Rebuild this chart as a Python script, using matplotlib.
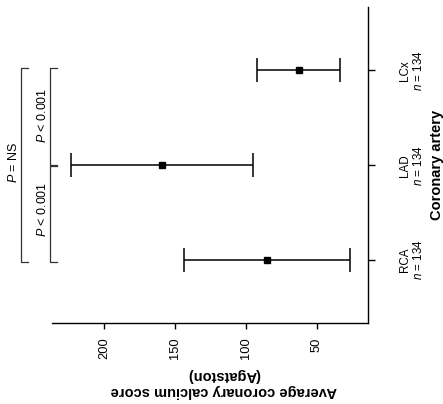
import matplotlib
matplotlib.use("Agg")
import matplotlib.pyplot as plt
import matplotlib.transforms as mtransforms

plt.rcParams['font.family'] = ['Liberation Sans', 'DejaVu Sans']
plt.rcParams['mathtext.fontset'] = 'custom'
plt.rcParams['mathtext.it'] = 'Liberation Sans:italic'
plt.rcParams['mathtext.rm'] = 'Liberation Sans'

# ---- data ----
categories = ['RCA', 'LAD', 'LCx']
n_values = [134, 134, 134]
means = [85.5, 159.5, 63.0]
errors = [58.5, 64.0, 29.0]
value_ticks = [200, 150, 100, 50]
comparisons = [  # (from index, to index, label)
    (0, 1, '$P$ < 0.001'),
    (1, 2, '$P$ < 0.001'),
    (0, 2, '$P$ = NS'),
]

W, H = 443, 404
fig = plt.figure(figsize=(W / 100, H / 100), dpi=100)
ax = fig.add_axes([52 / W, 1 - 323 / H, 316 / W, 316 / H])

ypos = list(range(len(categories)))
ax.errorbar(means, ypos, xerr=errors, fmt='s', color='black', ecolor='black',
            markersize=5, elinewidth=1.1, capsize=8.3, capthick=1.1)

ax.set_xlim(237, 14)
ax.set_ylim(-0.665, 2.67)

for s in ['top', 'left']:
    ax.spines[s].set_visible(False)
for s in ['bottom', 'right']:
    ax.spines[s].set_linewidth(1.0)

ax.set_xticks(value_ticks)
ax.set_xticklabels([str(v) for v in value_ticks], rotation=90, fontsize=9.3)
ax.tick_params(axis='x', length=4, width=1.0, pad=6.5)

ax.yaxis.tick_right()
ax.set_yticks(ypos)
ax.set_yticklabels([f'{c}\n$n$ = {n}' for c, n in zip(categories, n_values)],
                   rotation=90, fontsize=8.4, va='center', ha='left',
                   multialignment='center', linespacing=1.05)
ax.tick_params(axis='y', length=5, width=1.0, pad=17.5)

ax.text(0.544, -0.19, 'Average coronary calcium score\n(Agatston)',
        transform=ax.transAxes, rotation=180, ha='center', va='center',
        multialignment='center', fontsize=10.5, fontweight='bold', linespacing=1.15)
ax.text(1.218, 0.5, 'Coronary artery', transform=ax.transAxes, rotation=90,
        ha='center', va='center', fontsize=10.5, fontweight='bold')

# significance brackets (x in axes coords, y in data coords)
trans = mtransforms.blended_transform_factory(ax.transAxes, ax.transData)
bracket_style = dict(color='#333333', lw=0.9, clip_on=False, transform=trans)
for i0, i1, lab in comparisons:
    if abs(i1 - i0) > 1:
        xl, xt, xtext = -0.099, -0.075, -0.123
        y0, y1 = i0 - 0.018, i1 + 0.025
    else:
        xl, xt, xtext = -0.0063, 0.0149, -0.030
        y0 = i0 - 0.02 if i0 == 0 else i0 + 0.005
        y1 = i1 + 0.03 if i1 == 2 else i1 - 0.005
    ax.plot([xt, xl, xl, xt], [y0, y0, y1, y1], **bracket_style)
    ax.text(xtext, (i0 + i1) / 2 + (0.035 if abs(i1 - i0) > 1 else 0.03),
            lab, transform=trans, rotation=90, ha='center', va='center',
            fontsize=9)

fig.savefig('out.png', dpi=100)
